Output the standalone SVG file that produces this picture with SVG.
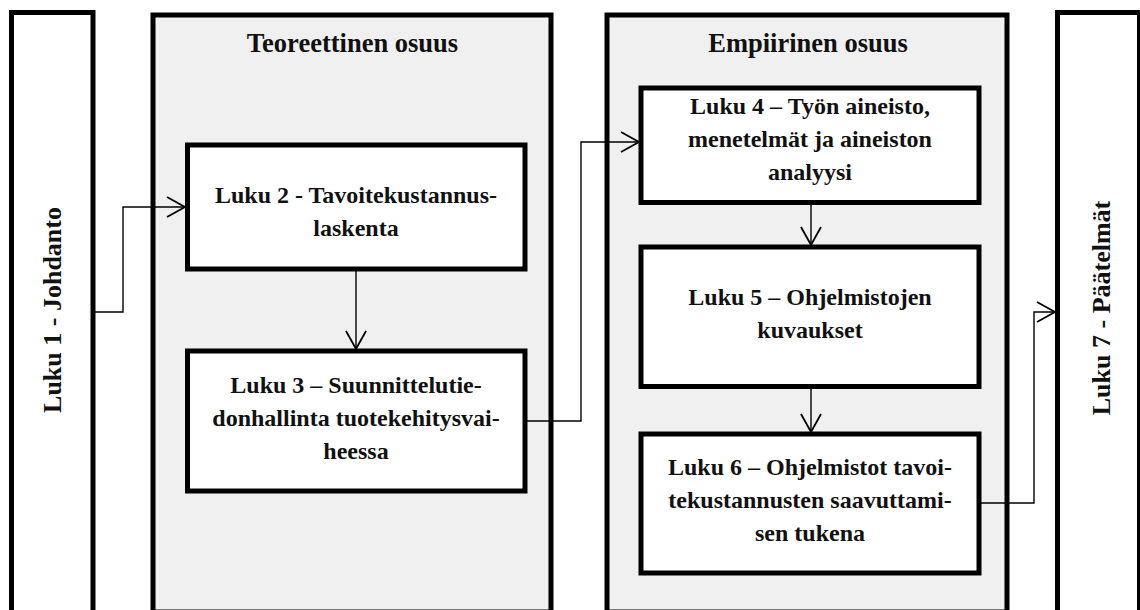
<svg xmlns="http://www.w3.org/2000/svg" width="1140" height="610" viewBox="0 0 1140 610">
  <style>
    .frame { fill: #ffffff; stroke: #000000; stroke-width: 5; }
    .section { fill: #f0f0f0; stroke: #000000; stroke-width: 5; }
    .box { fill: #ffffff; stroke: #000000; stroke-width: 5; }
    .label { font-family: "Liberation Serif", "Times New Roman", serif; font-weight: bold; font-size: 24px; fill: #111111; text-anchor: middle; }
    .title { font-size: 26.5px; }
    .side { font-size: 26px; }
    .link { fill: none; stroke: #000000; stroke-width: 1.4; }
  </style>
  <defs>
    <marker id="openArrow" markerUnits="userSpaceOnUse" markerWidth="24" markerHeight="26" viewBox="-20 -13 24 26" refX="0" refY="0" orient="auto">
      <path d="M-18,-10 L0,0 L-18,10" fill="none" stroke="#000000" stroke-width="1.8"/>
    </marker>
  </defs>
  <rect width="1140" height="610" fill="#ffffff"/>

  <!-- Introduction chapter -->
  <g id="luku1">
    <rect class="frame" x="11.5" y="12.5" width="81.5" height="600"/>
    <text class="label side" transform="translate(61,310) rotate(-90)">Luku 1 - Johdanto</text>
  </g>

  <!-- Theoretical part -->
  <g id="teoreettinen">
    <rect class="section" x="153" y="15" width="398" height="597"/>
    <text class="label title" x="352.5" y="52">Teoreettinen osuus</text>
  </g>

  <g id="luku2">
    <rect class="box" x="187.5" y="145" width="337.5" height="124"/>
    <text class="label" x="356" y="203">Luku 2 - Tavoitekustannus-</text>
    <text class="label" x="356" y="236">laskenta</text>
  </g>

  <g id="luku3">
    <rect class="box" x="187.5" y="351" width="337.5" height="140"/>
    <text class="label" x="356" y="393">Luku 3 – Suunnittelutie-</text>
    <text class="label" x="356" y="426">donhallinta tuotekehitysvai-</text>
    <text class="label" x="356" y="459">heessa</text>
  </g>

  <!-- Empirical part -->
  <g id="empiirinen">
    <rect class="section" x="607" y="15" width="400" height="597"/>
    <text class="label title" x="808" y="52">Empiirinen osuus</text>
  </g>

  <g id="luku4">
    <rect class="box" x="641" y="88" width="338" height="114.5"/>
    <text class="label" x="810" y="114">Luku 4 – Työn aineisto,</text>
    <text class="label" x="810" y="147">menetelmät ja aineiston</text>
    <text class="label" x="810" y="180">analyysi</text>
  </g>

  <g id="luku5">
    <rect class="box" x="641" y="247" width="338" height="139.5"/>
    <text class="label" x="810" y="305">Luku 5 – Ohjelmistojen</text>
    <text class="label" x="810" y="338">kuvaukset</text>
  </g>

  <g id="luku6">
    <rect class="box" x="641" y="434" width="338" height="139"/>
    <text class="label" x="810" y="475">Luku 6 – Ohjelmistot tavoi-</text>
    <text class="label" x="810" y="508">tekustannusten saavuttami-</text>
    <text class="label" x="810" y="541">sen tukena</text>
  </g>

  <!-- Conclusions chapter -->
  <g id="luku7">
    <rect class="frame" x="1057.5" y="12.5" width="82" height="600"/>
    <text class="label side" transform="translate(1110,308) rotate(-90)">Luku 7 - Päätelmät</text>
  </g>

  <!-- Reading order -->
  <g id="connectors">
    <polyline class="link" points="93,312 123,312 123,207 185,207" marker-end="url(#openArrow)"/>
    <line class="link" x1="356" y1="271" x2="356" y2="349" marker-end="url(#openArrow)"/>
    <polyline class="link" points="527,421 581,421 581,142 639,142" marker-end="url(#openArrow)"/>
    <line class="link" x1="811" y1="204" x2="811" y2="245" marker-end="url(#openArrow)"/>
    <line class="link" x1="811" y1="389" x2="811" y2="432" marker-end="url(#openArrow)"/>
    <polyline class="link" points="981,503 1034,503 1034,312 1055,312" marker-end="url(#openArrow)"/>
  </g>
</svg>
